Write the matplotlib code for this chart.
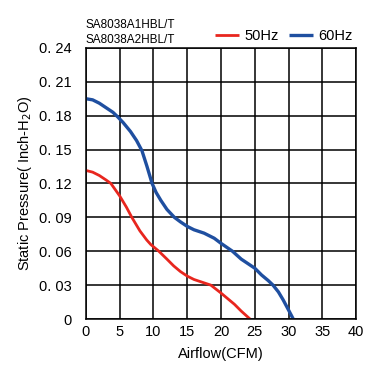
import matplotlib.pyplot as plt

plt.rcParams['font.family'] = ['Liberation Sans', 'DejaVu Sans']

# -- values --
cfm_50 = [0, 1, 2, 3, 3.7, 5, 6, 6.8, 8, 9, 9.6, 10.8, 12, 13, 14, 15, 16, 17.5, 18.5,
          20, 21, 22, 23, 24.3]
sp_50 = [0.1315, 0.130, 0.127, 0.123, 0.120, 0.109, 0.099, 0.090, 0.078, 0.070, 0.066,
         0.060, 0.053, 0.047, 0.042, 0.038, 0.035, 0.032, 0.030, 0.023, 0.018, 0.013,
         0.007, 0.0]

cfm_60 = [0, 1, 2, 3, 4, 4.7, 5.5, 6.6, 7.5, 8.3, 9.05, 9.8, 10.4, 11.1, 12, 13.1, 14,
          15, 16, 17.5, 19, 20, 21.7, 23, 24, 25, 26, 27, 27.7, 28.5, 29.2, 30, 30.7]
sp_60 = [0.195, 0.194, 0.191, 0.187, 0.183, 0.179, 0.174, 0.166, 0.158, 0.149, 0.135,
         0.120, 0.112, 0.105, 0.097, 0.090, 0.086, 0.082, 0.079, 0.076, 0.0715, 0.067,
         0.060, 0.053, 0.049, 0.045, 0.039, 0.034, 0.030, 0.024, 0.017, 0.008, 0.0]

x_ticks = [0, 5, 10, 15, 20, 25, 30, 35, 40]
y_ticks = [0, 0.03, 0.06, 0.09, 0.12, 0.15, 0.18, 0.21, 0.24]
y_labels = ["0", "0. 03", "0. 06", "0. 09", "0. 12", "0. 15", "0. 18", "0. 21", "0. 24"]
models = ["SA8038A1HBL/T", "SA8038A2HBL/T"]

fig = plt.figure(figsize=(3.8, 3.8), dpi=100)
ax = fig.add_axes([0.226, 0.1605, 0.711, 0.7135])

ax.plot(cfm_50, sp_50, color="#e8261e", linewidth=2.0, label="50Hz", solid_capstyle="butt")
ax.plot(cfm_60, sp_60, color="#1f4fa0", linewidth=2.4, label="60Hz", solid_capstyle="butt")

ax.set_xlim(0, 40)
ax.set_ylim(0, 0.24)
ax.set_xticks(x_ticks)
ax.set_yticks(y_ticks)
ax.set_yticklabels(y_labels)
ax.tick_params(axis="y", length=0, labelsize=10.5, pad=10)
ax.tick_params(axis="x", length=0, labelsize=10.5, pad=4)
ax.grid(True, color="black", linewidth=1.1)
ax.set_axisbelow(True)
for s in ax.spines.values():
    s.set_linewidth(1.1)

ax.set_xlabel("Airflow(CFM)", fontsize=10.5, labelpad=6)
ax.set_ylabel("Static Pressure( Inch-H$_2$O)", fontsize=10.5, labelpad=4)

fig.text(0.226, 0.934, models[0], fontsize=8.5, va="center")
fig.text(0.226, 0.894, models[1], fontsize=8.5, va="center")

ax.legend(loc="lower right", bbox_to_anchor=(1.02, 0.985), ncol=2, frameon=False,
          fontsize=10.5, handlelength=1.6, columnspacing=0.7, handletextpad=0.4,
          borderaxespad=0.2)

fig.savefig("out.png", dpi=100)
